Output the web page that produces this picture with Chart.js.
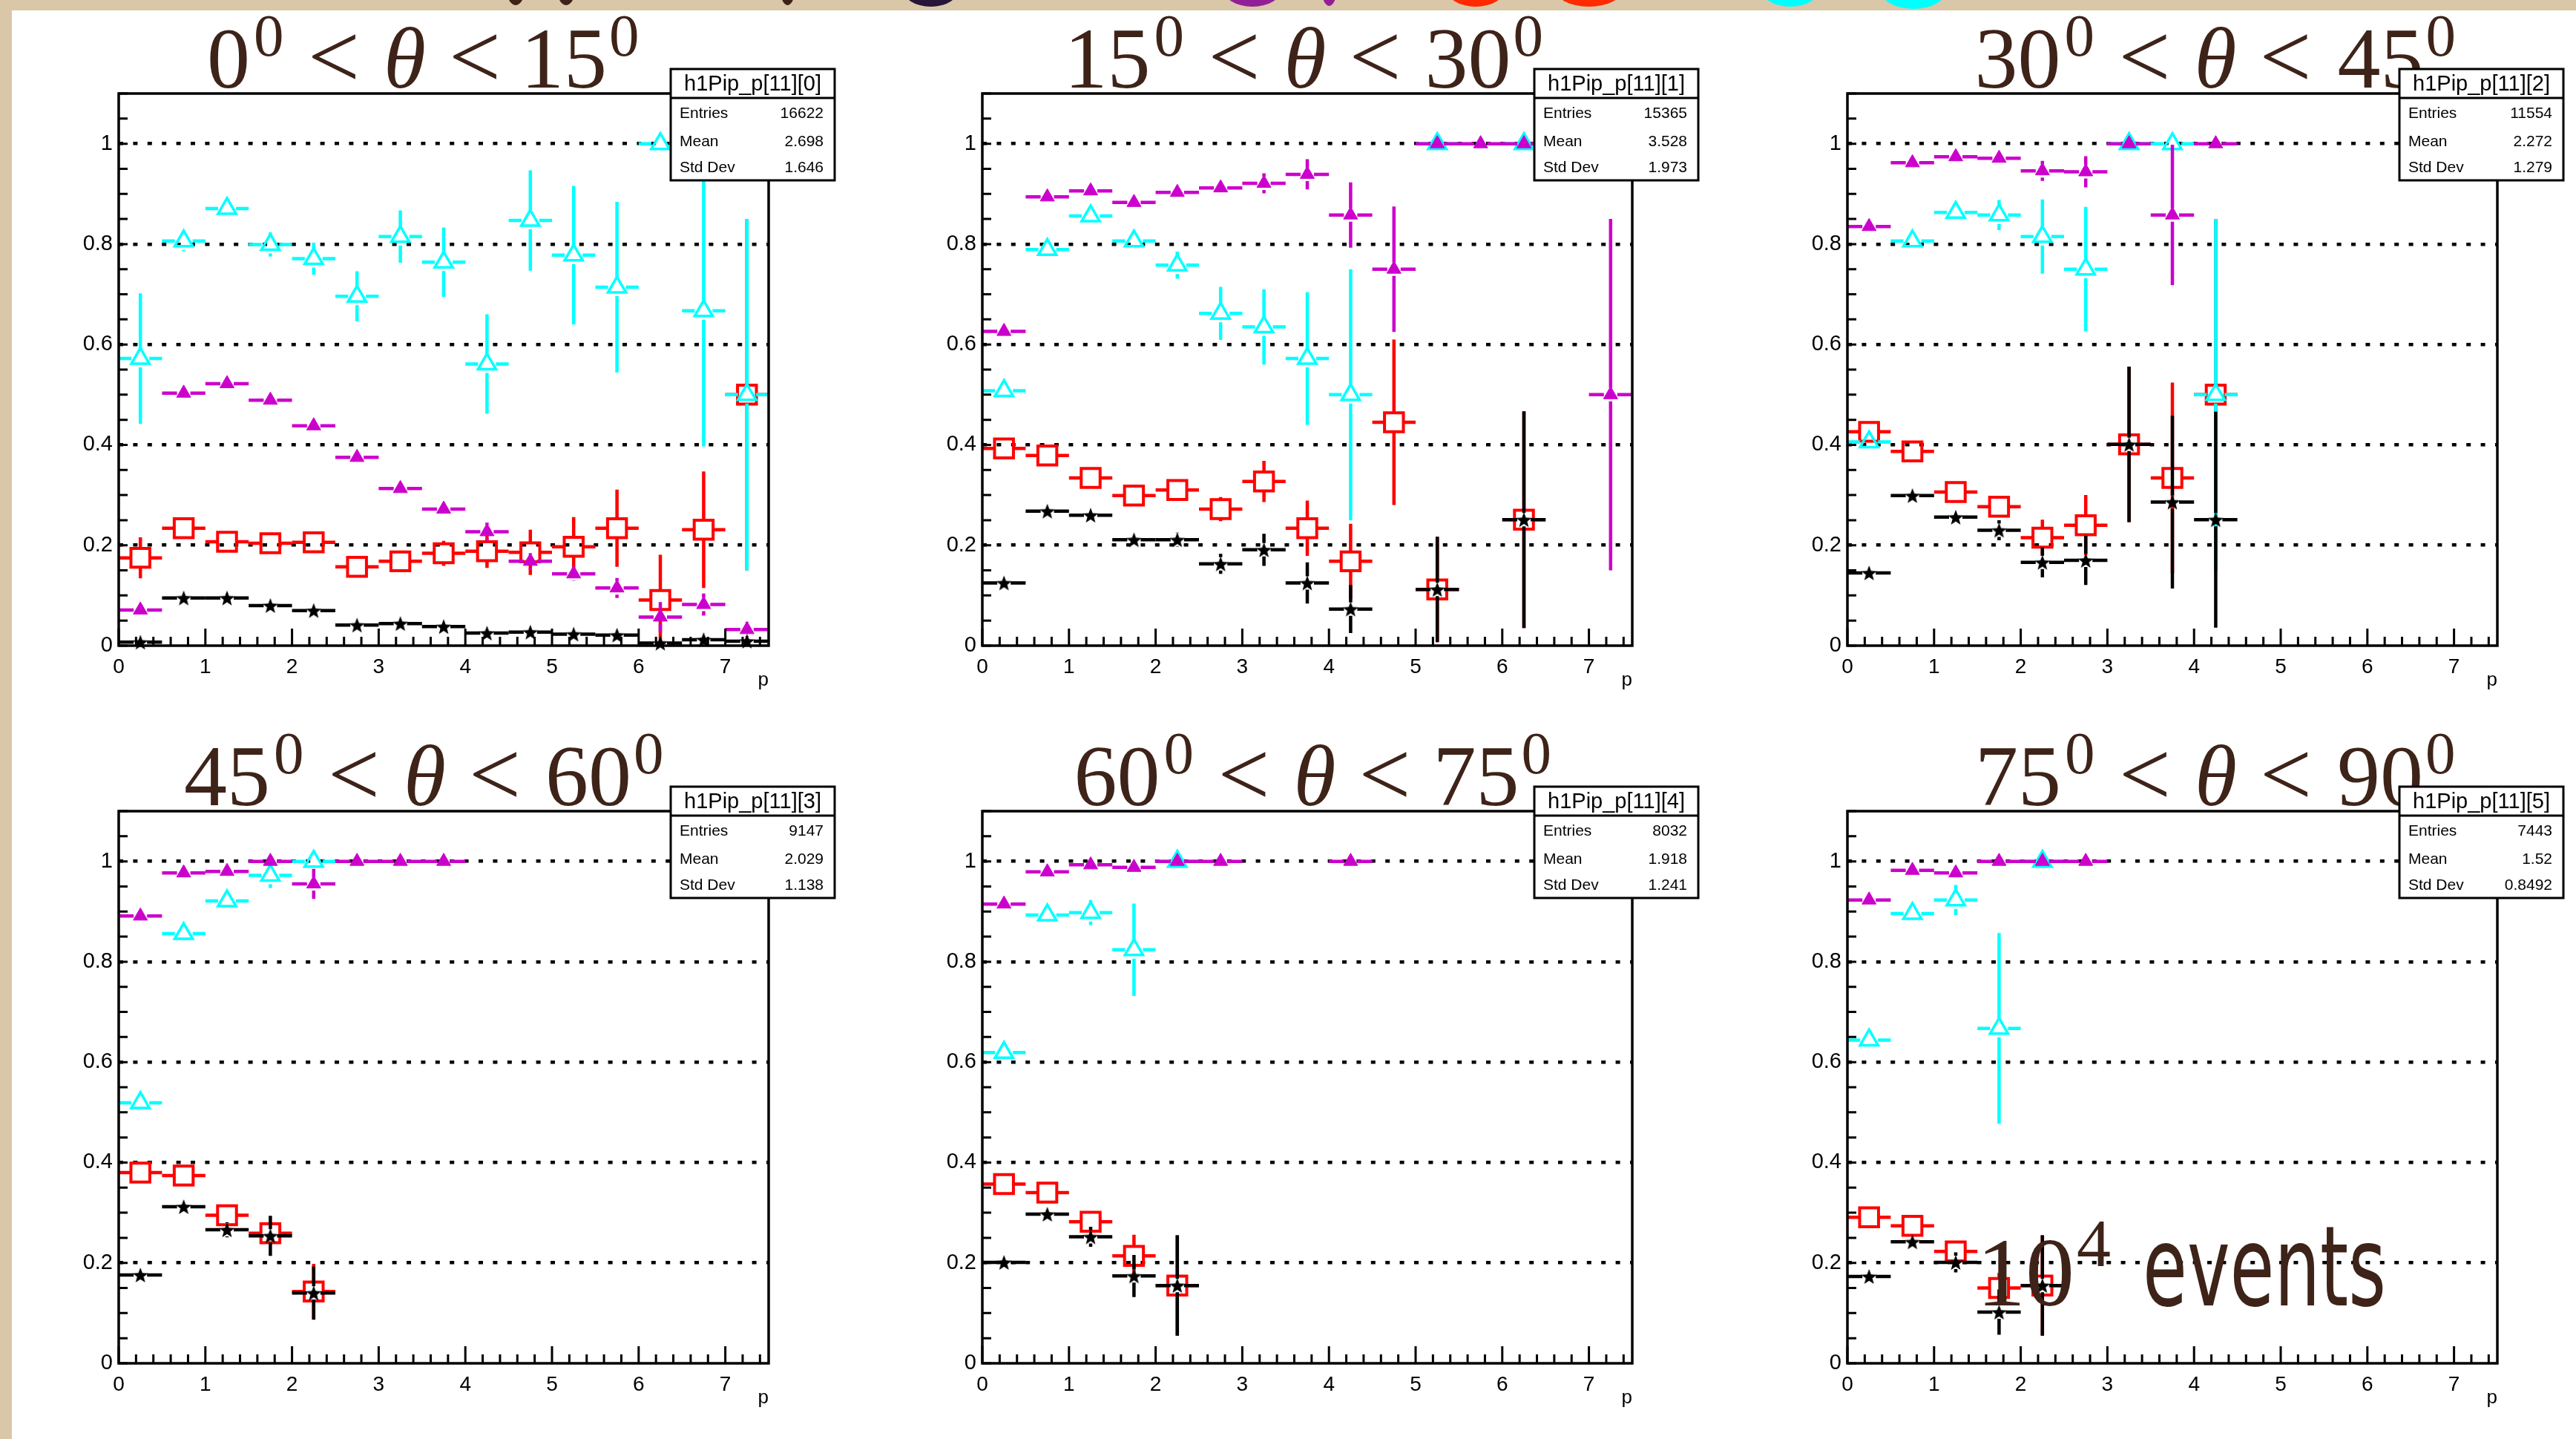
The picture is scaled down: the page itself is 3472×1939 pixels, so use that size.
<!DOCTYPE html>
<html>
<head>
<meta charset="utf-8">
<title>h1Pip_p fractions vs p</title>
<script src="https://cdn.jsdelivr.net/npm/chart.js@4.4.1/dist/chart.umd.min.js"></script>
<style>
    html, body { margin: 0; padding: 0; overflow: hidden; }
    body { width: 3472px; height: 1939px; position: relative; background: #d9c7a8; }
    #sheet { position: absolute; left: 16px; top: 14px; right: 0; bottom: 0; background: #fff; }
    .blob { position: absolute; top: -40px; height: 50px; border-radius: 50%; }
    canvas { position: absolute; }
</style>
</head>
<body>
<div id="sheet"></div>
<!-- bottoms of the slide heading letters peeking in above the plot sheet -->
<div class="blob" style="left:682px;width:26px;top:-43px;background:#3e2319"></div>
<div class="blob" style="left:750px;width:26px;top:-43px;background:#3e2319"></div>
<div class="blob" style="left:1051px;width:21px;top:-43px;background:#3e2319"></div>
<div class="blob" style="left:1216px;width:77px;top:-41px;background:#27163a"></div>
<div class="blob" style="left:1648px;width:80px;top:-41px;background:#921f98"></div>
<div class="blob" style="left:1781px;width:21px;top:-42px;background:#921f98"></div>
<div class="blob" style="left:1949px;width:80px;top:-41px;background:#ff2a00"></div>
<div class="blob" style="left:2095px;width:93px;top:-41px;background:#ff2a00"></div>
<div class="blob" style="left:2373px;width:80px;top:-41px;background:#00ffff"></div>
<div class="blob" style="left:2535px;width:88px;top:-38px;background:#00ffff"></div>

<script>
const binCenters = [0.25, 0.75, 1.25, 1.75, 2.25, 2.75, 3.25, 3.75, 4.25, 4.75, 5.25, 5.75, 6.25, 6.75, 7.25];
const binHalfWidth = 0.25;

const thetaLow = [0, 15, 30, 45, 60, 75];
const thetaHigh = [15, 30, 45, 60, 75, 90];
const statNames = ['h1Pip_p[11][0]', 'h1Pip_p[11][1]', 'h1Pip_p[11][2]', 'h1Pip_p[11][3]', 'h1Pip_p[11][4]', 'h1Pip_p[11][5]'];
const statEntries = ['16622', '15365', '11554', '9147', '8032', '7443'];
const statMean = ['2.698', '3.528', '2.272', '2.029', '1.918', '1.52'];
const statStdDev = ['1.646', '1.973', '1.279', '1.138', '1.241', '0.8492'];

// open cyan triangles, one row per theta bin
const openTriangle = [
    [0.572, 0.806, 0.871, 0.799, 0.771, 0.696, 0.815, 0.764, 0.561, 0.847, 0.778, 0.714, 1.0, 0.667, 0.5],
    [0.508, 0.789, 0.856, 0.806, 0.758, 0.662, 0.635, 0.572, 0.5, null, 1.0, null, 1.0],
    [0.406, 0.806, 0.863, 0.858, 0.815, 0.75, 1.0, 1.0, 0.5],
    [0.519, 0.856, 0.921, 0.972, 1.0],
    [0.619, 0.893, 0.898, 0.824, 1.0],
    [0.644, 0.896, 0.923, 0.667, 1.0]
];
const openTriangleErr = [
    [0.13, 0.02, 0.018, 0.024, 0.032, 0.05, 0.052, 0.069, 0.099, 0.1, 0.138, 0.17, 0, 0.27, 0.35],
    [0.008, 0.01, 0.015, 0.015, 0.027, 0.053, 0.075, 0.132, 0.25, null, 0, null, 0],
    [0.01, 0.01, 0.012, 0.03, 0.074, 0.124, 0, 0, 0.35],
    [0.008, 0.012, 0.012, 0.025, 0],
    [0.008, 0.012, 0.025, 0.092, 0],
    [0.01, 0.015, 0.03, 0.19, 0]
];

// full magenta triangles
const fullTriangle = [
    [0.071, 0.503, 0.522, 0.489, 0.438, 0.375, 0.313, 0.272, 0.227, 0.168, 0.143, 0.115, 0.057, 0.082, 0.032],
    [0.626, 0.894, 0.906, 0.883, 0.903, 0.912, 0.921, 0.939, 0.858, 0.75, 1.0, 1.0, 1.0, null, 0.5],
    [0.835, 0.962, 0.974, 0.971, 0.946, 0.944, 1.0, 0.858, 1.0],
    [0.891, 0.977, 0.98, 1.0, 0.955, 1.0, 1.0, 1.0],
    [0.915, 0.979, 0.993, 0.988, 1.0, 1.0, null, null, 1.0],
    [0.923, 0.982, 0.977, 1.0, 1.0, 1.0]
];
const fullTriangleErr = [
    [0.004, 0.004, 0.005, 0.005, 0.006, 0.007, 0.008, 0.01, 0.018, 0.016, 0.014, 0.02, 0.03, 0.022, 0.015],
    [0.006, 0.006, 0.007, 0.008, 0.01, 0.013, 0.02, 0.03, 0.065, 0.125, 0, 0, 0, null, 0.35],
    [0.006, 0.006, 0.007, 0.01, 0.02, 0.031, 0, 0.14, 0],
    [0.006, 0.006, 0.008, 0, 0.03, 0, 0, 0],
    [0.006, 0.006, 0.006, 0.008, 0, 0, null, null, 0],
    [0.006, 0.008, 0.01, 0, 0, 0]
];

// open red squares
const openSquare = [
    [0.175, 0.234, 0.207, 0.204, 0.206, 0.157, 0.168, 0.184, 0.188, 0.186, 0.197, 0.234, 0.091, 0.231, 0.5],
    [0.393, 0.379, 0.334, 0.299, 0.31, 0.272, 0.327, 0.234, 0.168, 0.445, 0.112, null, 0.251],
    [0.426, 0.387, 0.306, 0.277, 0.215, 0.24, 0.401, 0.334, 0.5],
    [0.38, 0.374, 0.295, 0.259, 0.143],
    [0.357, 0.34, 0.282, 0.214, 0.155],
    [0.291, 0.274, 0.223, 0.15, 0.155]
];
const openSquareErr = [
    [0.041, 0.01, 0.01, 0.01, 0.01, 0.01, 0.014, 0.025, 0.033, 0.045, 0.059, 0.077, 0.09, 0.116, 0.35],
    [0.01, 0.01, 0.012, 0.014, 0.016, 0.024, 0.041, 0.055, 0.075, 0.165, 0.105, null, 0.216],
    [0.012, 0.01, 0.012, 0.016, 0.036, 0.06, 0.155, 0.19, 0.35],
    [0.01, 0.01, 0.015, 0.022, 0.055],
    [0.01, 0.01, 0.02, 0.042, 0.1],
    [0.01, 0.012, 0.02, 0.03, 0.1]
];

// black stars
const star = [
    [0.007, 0.095, 0.095, 0.08, 0.07, 0.041, 0.044, 0.038, 0.025, 0.027, 0.023, 0.021, 0.005, 0.012, 0.009],
    [0.125, 0.268, 0.26, 0.211, 0.211, 0.163, 0.191, 0.125, 0.073, null, 0.112, null, 0.251],
    [0.145, 0.299, 0.256, 0.23, 0.166, 0.17, 0.401, 0.286, 0.251],
    [0.176, 0.312, 0.266, 0.254, 0.14],
    [0.201, 0.297, 0.252, 0.174, 0.155],
    [0.173, 0.242, 0.201, 0.102, 0.155]
];
const starErr = [
    [0.002, 0.003, 0.003, 0.003, 0.003, 0.003, 0.003, 0.004, 0.004, 0.005, 0.005, 0.006, 0.004, 0.006, 0.006],
    [0.005, 0.008, 0.009, 0.01, 0.014, 0.02, 0.032, 0.041, 0.048, null, 0.105, null, 0.216],
    [0.006, 0.008, 0.01, 0.02, 0.03, 0.049, 0.155, 0.172, 0.215],
    [0.006, 0.008, 0.015, 0.04, 0.053],
    [0.006, 0.01, 0.02, 0.042, 0.1],
    [0.006, 0.01, 0.02, 0.045, 0.1]
];

// layout of the 3x2 pad grid (page pixels)
const frameLeft = [160, 1324, 2490];
const frameTop = [126, 1093];
const frameW = 876;
const frameH = 744;
const padLeft = 110, padTop = 126, padRight = 110, padBottom = 80;
const titleCenter = [411, 437, 497, 411, 446, 498];

const SANS = '"Liberation Sans", Arial, Helvetica, sans-serif';
const SERIF = '"Liberation Serif", "Times New Roman", serif';
const BROWN = '#3e2319';

function toPoints(vals, errs) {
    const pts = [];
    vals.forEach((v, i) => {
        if (v == null) return;
        pts.push({ x: binCenters[i], y: v, err: errs[i] || 0 });
    });
    return pts;
}

function starImage(size) {
    const c = document.createElement('canvas');
    c.width = size; c.height = size;
    const g = c.getContext('2d');
    g.fillStyle = '#000';
    g.beginPath();
    for (let i = 0; i < 10; i++) {
        const r = i % 2 ? size * 0.21 : size * 0.5;
        const a = -Math.PI / 2 + i * Math.PI / 5;
        g.lineTo(size / 2 + r * Math.cos(a), size / 2 + r * Math.sin(a) + size * 0.05);
    }
    g.closePath();
    g.fill();
    return c;
}
const starMarker = starImage(22);

// ROOT style error bars, drawn right before each series' markers
const errorBars = {
    id: 'errorBars',
    beforeDatasetDraw(chart, args) {
        const ds = chart.data.datasets[args.index];
        const { ctx, chartArea: a } = chart;
        const xs = chart.scales.x, ys = chart.scales.y;
        ctx.save();
        ctx.beginPath();
        ctx.rect(a.left, a.top, a.right - a.left, a.bottom - a.top);
        ctx.clip();
        ctx.strokeStyle = ds.barColor;
        ctx.lineWidth = 4.5;
        ctx.lineCap = 'butt';
        ds.data.forEach(p => {
            const px = xs.getPixelForValue(p.x);
            const py = ys.getPixelForValue(p.y);
            const xl = xs.getPixelForValue(p.x - binHalfWidth);
            const xr = xs.getPixelForValue(p.x + binHalfWidth);
            const yt = ys.getPixelForValue(p.y + p.err);
            const yb = ys.getPixelForValue(p.y - p.err);
            const g = ds.gap;
            ctx.beginPath();
            ctx.moveTo(xl, py); ctx.lineTo(px - g, py);
            ctx.moveTo(px + g, py); ctx.lineTo(xr, py);
            if (py - yt > g) { ctx.moveTo(px, yt); ctx.lineTo(px, py - g); }
            if (yb - py > g) { ctx.moveTo(px, py + g); ctx.lineTo(px, yb); }
            ctx.stroke();
        });
        ctx.restore();
    }
};

// title laid out by ink extents, gaps
function drawTitle(ctx, k, a) {
    const big = '116px ' + SERIF;
    const sup = '81px ' + SERIF;
    const lt = '124px ' + SERIF;
    const ital = 'italic 116px ' + SERIF;
    const parts = [
        { t: String(thetaLow[k]), f: big, dy: 0, gap: 0 },
        { t: '0', f: sup, dy: -43, gap: 12 },
        { t: '<', f: lt, dy: 0, gap: 41 },
        { t: '\u03b8', f: ital, dy: 0, gap: 43 },
        { t: '<', f: lt, dy: 0, gap: 39 },
        { t: String(thetaHigh[k]), f: big, dy: 0, gap: 43 },
        { t: '0', f: sup, dy: -43, gap: 10 }
    ];
    let total = 0;
    parts.forEach(p => {
        ctx.font = p.f;
        const m = ctx.measureText(p.t);
        p.l = m.actualBoundingBoxLeft;
        p.w = m.actualBoundingBoxLeft + m.actualBoundingBoxRight;
        total += p.gap + p.w;
    });
    let x = a.left + titleCenter[k] - total / 2;
    const base = a.top - 8;
    ctx.save();
    ctx.fillStyle = BROWN;
    ctx.textBaseline = 'alphabetic';
    ctx.textAlign = 'left';
    parts.forEach(p => {
        x += p.gap;
        ctx.font = p.f;
        ctx.fillText(p.t, x + p.l, base + p.dy);
        x += p.w;
    });
    ctx.restore();
}

function drawStats(ctx, k, a) {
    const x0 = a.right - 132, y0 = a.top - 33, w = 221, h = 150;
    ctx.save();
    ctx.fillStyle = '#fff';
    ctx.fillRect(x0, y0, w, h);
    ctx.strokeStyle = '#000';
    ctx.lineWidth = 3;
    ctx.strokeRect(x0, y0, w, h);
    ctx.beginPath();
    ctx.moveTo(x0, y0 + 39); ctx.lineTo(x0 + w, y0 + 39);
    ctx.stroke();
    ctx.fillStyle = '#000';
    ctx.font = '29px ' + SANS;
    ctx.textAlign = 'center';
    ctx.fillText(statNames[k], x0 + w / 2, y0 + 29);
    ctx.font = '21px ' + SANS;
    const rows = [['Entries', statEntries[k]], ['Mean', statMean[k]], ['Std Dev', statStdDev[k]]];
    const base = [66, 104, 139];
    rows.forEach((r, i) => {
        ctx.textAlign = 'left';
        ctx.fillText(r[0], x0 + 12, y0 + base[i]);
        ctx.textAlign = 'right';
        ctx.fillText(r[1], x0 + w - 15, y0 + base[i]);
    });
    ctx.restore();
}

function drawFrame(chart) {
    const { ctx, chartArea: a } = chart;
    const xs = chart.scales.x, ys = chart.scales.y;
    ctx.save();
    ctx.strokeStyle = '#000';
    ctx.lineWidth = 3.5;
    ctx.strokeRect(a.left, a.top, a.right - a.left, a.bottom - a.top);
    ctx.lineWidth = 3;
    ctx.beginPath();
    for (let i = 0; i * 0.2 <= 7.5 + 1e-9; i++) {
        const px = xs.getPixelForValue(i * 0.2);
        const len = i % 5 === 0 ? 23 : 12;
        ctx.moveTo(px, a.bottom); ctx.lineTo(px, a.bottom - len);
    }
    for (let i = 0; i * 0.05 <= 1.1 + 1e-9; i++) {
        const py = ys.getPixelForValue(i * 0.05);
        ctx.moveTo(a.left, py); ctx.lineTo(a.left + 12, py);
    }
    ctx.stroke();
    ctx.restore();
}

function drawEventsNote(ctx) {
    ctx.save();
    ctx.fillStyle = BROWN;
    ctx.textBaseline = 'alphabetic';
    ctx.font = '132px ' + SERIF;
    ctx.fillText('10', 284, 792);
    ctx.font = '92px ' + SERIF;
    ctx.fillText('4', 419, 739);
    ctx.font = '150px "DejaVu Sans", sans-serif';
    const w = ctx.measureText('events').width;
    ctx.translate(508, 792);
    ctx.scale(328 / w, 1);
    ctx.fillText('events', 0, 0);
    ctx.restore();
}

const padDecor = {
    id: 'padDecor',
    afterDraw(chart) {
        const k = chart.options.padIndex;
        const { ctx, chartArea: a } = chart;
        drawFrame(chart);
        drawTitle(ctx, k, a);
        drawStats(ctx, k, a);
        if (k === 5) drawEventsNote(ctx);
    }
};

function makePanel(k) {
    const col = k % 3, row = Math.floor(k / 3);
    const cv = document.createElement('canvas');
    cv.width = padLeft + frameW + padRight;
    cv.height = padTop + frameH + padBottom;
    cv.style.left = (frameLeft[col] - padLeft) + 'px';
    cv.style.top = (frameTop[row] - padTop) + 'px';
    document.body.appendChild(cv);

    // first dataset ends up on top
    const datasets = [
        {
            label: 'star', data: toPoints(star[k], starErr[k]),
            pointStyle: starMarker, pointRadius: 11,
            borderColor: '#000', backgroundColor: '#000',
            barColor: '#000', gap: 9
        },
        {
            label: 'full triangle', data: toPoints(fullTriangle[k], fullTriangleErr[k]),
            pointStyle: 'triangle', pointRadius: 11, borderWidth: 1,
            borderColor: '#cc00cc', backgroundColor: '#cc00cc',
            barColor: '#cc00cc', gap: 9
        },
        {
            label: 'open triangle', data: toPoints(openTriangle[k], openTriangleErr[k]),
            pointStyle: 'triangle', pointRadius: 14, borderWidth: 3.5,
            borderColor: '#00ffff', backgroundColor: 'rgba(0,0,0,0)',
            barColor: '#00ffff', gap: 12
        },
        {
            label: 'open square', data: toPoints(openSquare[k], openSquareErr[k]),
            pointStyle: 'rect', pointRadius: 18, borderWidth: 4,
            borderColor: '#ff0000', backgroundColor: 'rgba(0,0,0,0)',
            barColor: '#ff0000', gap: 13
        }
    ];
    datasets.forEach(d => { d.clip = 12; d.pointHoverRadius = d.pointRadius; });

    new Chart(cv, {
        type: 'scatter',
        data: { datasets: datasets },
        options: {
            padIndex: k,
            animation: false,
            responsive: false,
            devicePixelRatio: 1,
            events: [],
            layout: { padding: { left: 0, top: padTop, right: padRight, bottom: 0 } },
            plugins: { legend: { display: false }, tooltip: { enabled: false } },
            scales: {
                x: {
                    type: 'linear', min: 0, max: 7.5,
                    afterFit: s => { s.height = padBottom; },
                    ticks: {
                        stepSize: 1, includeBounds: false, autoSkip: false, maxRotation: 0,
                        color: '#000', padding: 4, font: { family: SANS, size: 28 }
                    },
                    grid: { display: false },
                    border: { display: false },
                    title: {
                        display: true, text: 'p', align: 'end', color: '#000',
                        font: { family: SANS, size: 26 }, padding: { top: 0, bottom: 18 }
                    }
                },
                y: {
                    type: 'linear', min: 0, max: 1.1,
                    afterFit: s => { s.width = padLeft; },
                    ticks: {
                        stepSize: 0.2, includeBounds: false,
                        color: '#000', padding: 8, font: { family: SANS, size: 29 },
                        callback: v => String(Math.round(v * 10) / 10)
                    },
                    grid: {
                        drawTicks: false, lineWidth: 4.5,
                        color: c => (c.tick && c.tick.value === 0) ? 'rgba(0,0,0,0)' : '#000'
                    },
                    border: { display: false, dash: [6, 13.4] }
                }
            }
        },
        plugins: [errorBars, padDecor]
    });
}

for (let k = 0; k < 6; k++) makePanel(k);
</script>
</body>
</html>
